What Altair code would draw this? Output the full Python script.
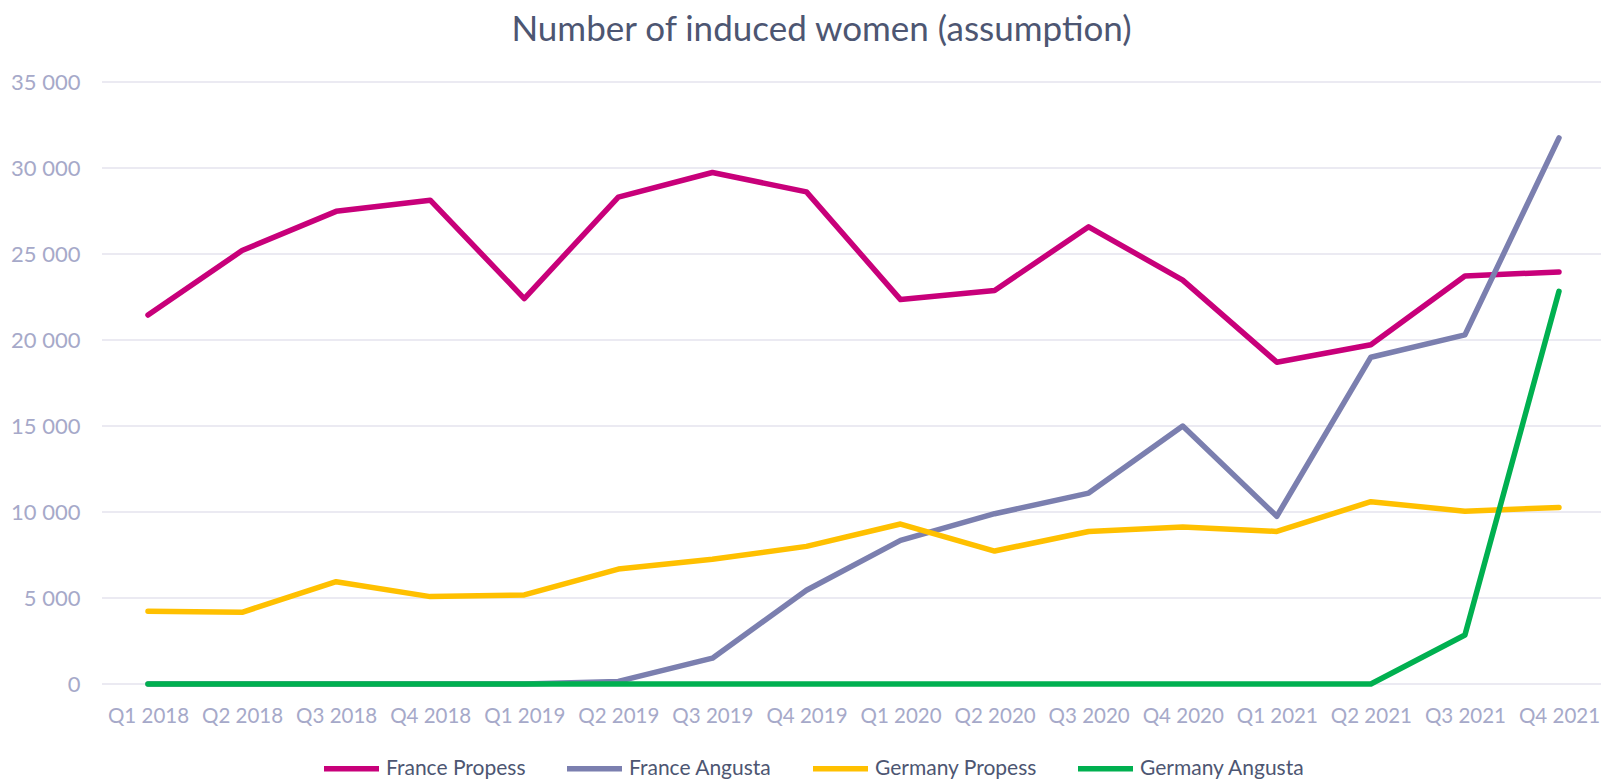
import altair as alt
import pandas as pd

quarters = ["Q1 2018", "Q2 2018", "Q3 2018", "Q4 2018",
            "Q1 2019", "Q2 2019", "Q3 2019", "Q4 2019",
            "Q1 2020", "Q2 2020", "Q3 2020", "Q4 2020",
            "Q1 2021", "Q2 2021", "Q3 2021", "Q4 2021"]

series_names = ["France Propess", "France Angusta", "Germany Propess", "Germany Angusta"]

france_propess = [21450, 25200, 27480, 28130, 22410, 28310, 29740, 28610,
                  22350, 22880, 26580, 23480, 18710, 19720, 23720, 23960]
france_angusta = [0, 0, 0, 0, 0, 150, 1500, 5450,
                  8350, 9900, 11100, 15000, 9750, 19000, 20300, 31750]
germany_propess = [4230, 4170, 5950, 5080, 5180, 6680, 7250, 8000,
                   9300, 7730, 8870, 9130, 8870, 10600, 10050, 10260]
germany_angusta = [0, 0, 0, 0, 0, 0, 0, 0,
                   0, 0, 0, 0, 0, 0, 2850, 22830]

y_ticks = [0, 5000, 10000, 15000, 20000, 25000, 30000, 35000]

colors = ["#C8007A", "#7B7FAF", "#FFC000", "#00B050"]

rows = []
for name, vals in zip(series_names, [france_propess, france_angusta, germany_propess, germany_angusta]):
    for i, (q, v) in enumerate(zip(quarters, vals)):
        rows.append({"quarter": q, "idx": i, "value": v, "series": name})
df = pd.DataFrame(rows)
grid_df = pd.DataFrame({"value": y_ticks})

FONT = "Lato"
TITLE_COLOR = "#4D5672"
LABEL_COLOR = "#A6A9C9"
PLOT_W = 1499
PLOT_H = 602

grid = alt.Chart(grid_df).mark_rule(color="#EBEAF2", strokeWidth=2).encode(
    y=alt.Y("value:Q", title=None),
    x=alt.value(0),
    x2=alt.value(PLOT_W),
)

lines = alt.Chart(df).mark_line(strokeWidth=5.5, strokeCap="round", strokeJoin="round").encode(
    x=alt.X("quarter:N", sort=quarters,
            scale=alt.Scale(type="point", range=[46, 1457], padding=0),
            axis=alt.Axis(title=None, labelAngle=0, ticks=False, domain=False, grid=False,
                          labelPadding=22, labelFontSize=20.5, labelColor=LABEL_COLOR,
                          labelFont=FONT)),
    y=alt.Y("value:Q", scale=alt.Scale(domain=[0, 35000], nice=False),
            axis=alt.Axis(title=None, values=y_ticks,
                          labelExpr="replace(format(datum.value, ',d'), ',', ' ')",
                          ticks=False, domain=False, grid=False, labelPadding=22,
                          labelFontSize=22, labelColor=LABEL_COLOR, labelFont=FONT)),
    color=alt.Color("series:N", sort=series_names,
                    scale=alt.Scale(domain=series_names, range=colors),
                    legend=alt.Legend(title=None, orient="none", direction="horizontal",
                                      legendX=219, legendY=656,
                                      symbolType="stroke", symbolSize=3025,
                                      symbolStrokeWidth=5.5, labelOffset=4,
                                      columnPadding=30, labelFontSize=21, labelLimit=400,
                                      labelColor=TITLE_COLOR, labelFont=FONT)),
    order=alt.Order("idx:Q"),
)

chart = alt.layer(grid, lines).properties(
    width=PLOT_W,
    height=PLOT_H,
    title=alt.TitleParams("Number of induced women (assumption)", fontSize=35, font=FONT,
                          fontWeight="normal", color=TITLE_COLOR, anchor="middle",
                          frame="group", dx=-30, offset=23),
    autosize=alt.AutoSizeParams(type="none"),
    padding={"left": 94, "top": 74, "right": 0, "bottom": 98},
).configure_view(stroke=None)

chart.save("out.html", embed_options={"renderer": "svg", "actions": False})
